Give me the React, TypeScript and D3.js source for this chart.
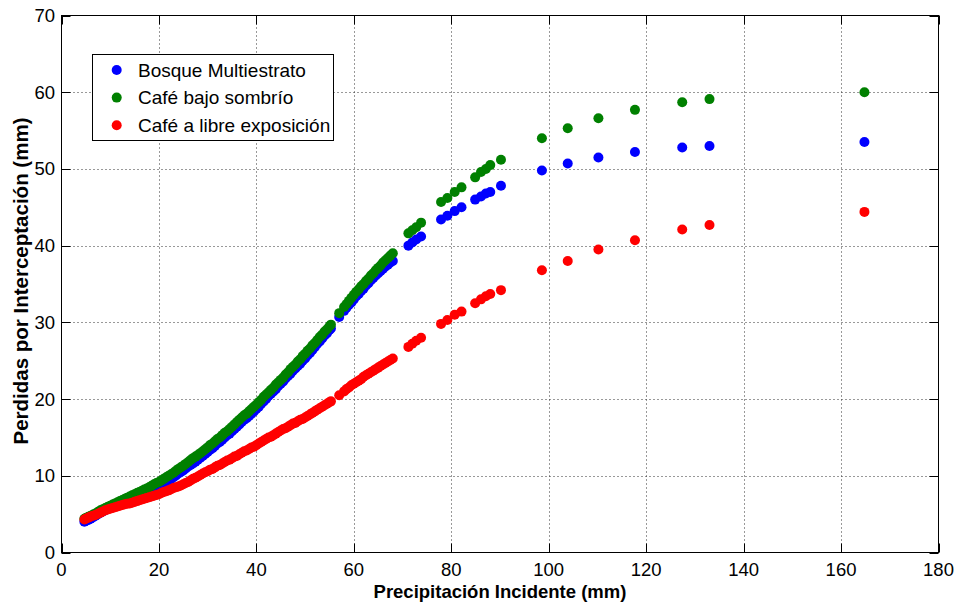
import React from "react";
import * as d3 from "d3";

// Incident precipitation per event (mm), shared by the three cover types
const precipitation = [
  4.7, 5, 5.5, 6, 6.5, 7, 7.5, 8, 8.5, 9, 9.5, 10, 10.5, 11, 11.5, 12, 12.5, 13, 13.5, 14, 14.5, 15,
  15.5, 16, 16.5, 17, 17.5, 18, 18.5, 19, 19.5, 20, 20.5, 21, 21.5, 22, 22.5, 23, 23.5, 24, 24.5, 25,
  25.5, 26, 26.5, 27, 27.5, 28, 28.5, 29, 29.5, 30,
  30.5, 31, 31.5, 32, 32.5, 33, 33.5, 34, 34.5, 35, 35.5, 36, 36.5, 37, 37.5, 38, 38.5, 39, 39.5, 40,
  40.5, 41, 41.5, 42, 42.5, 43, 43.5, 44, 44.5, 45, 45.5, 46, 46.5, 47, 47.5, 48, 48.5, 49, 49.5, 50,
  50.5, 51, 51.5, 52, 52.5, 53, 53.5, 54, 54.5, 55, 55.3,
  57, 58, 58.5, 59, 59.5, 60, 60.5, 61, 61.5, 62, 62.5, 63, 63.5, 64, 64.5, 65, 65.5, 66, 66.5, 67, 67.5, 68,
  71.2, 72, 72.8, 73.8,
  77.9, 79.2, 80.7, 82.1,
  84.9, 86.1, 87.1, 88, 90.2,
  98.6, 103.9, 110.2, 117.7, 127.4, 133, 164.8,
];

// Interception losses (mm) — Bosque Multiestrato
const bosque = [
  4.0, 4.1, 4.25, 4.4, 4.6, 4.8, 5.0, 5.2, 5.35, 5.5, 5.7, 5.9, 6.05, 6.2, 6.3, 6.4, 6.55, 6.7, 6.8, 6.9, 7.05, 7.2,
  7.35, 7.5, 7.6, 7.7, 7.85, 8.0, 8.15, 8.3, 8.45, 8.6, 8.8, 9.0, 9.2, 9.4, 9.6, 9.8, 10.05, 10.3, 10.5, 10.7,
  10.95, 11.2, 11.4, 11.6, 11.85, 12.1, 12.35, 12.6, 12.85, 13.1,
  13.4, 13.6, 13.9, 14.2, 14.4, 14.7, 15.0, 15.3, 15.5, 15.8, 16.1, 16.4, 16.7, 17.0, 17.3, 17.5, 17.8, 18.1, 18.4, 18.7,
  19.0, 19.4, 19.7, 20.0, 20.4, 20.7, 21.0, 21.3, 21.7, 22.0, 22.3, 22.7, 23.0, 23.3, 23.7, 24.0, 24.3, 24.6, 25.0, 25.3,
  25.7, 26.0, 26.4, 26.8, 27.2, 27.5, 27.9, 28.3, 28.6, 29.0, 29.2,
  30.7, 31.5, 31.9, 32.3, 32.6, 33.0, 33.4, 33.7, 34.1, 34.4, 34.8, 35.1, 35.5, 35.8, 36.1, 36.4, 36.7, 37.0, 37.3, 37.5, 37.8, 38.0,
  40.0, 40.4, 40.8, 41.2,
  43.4, 43.9, 44.5, 45.0,
  46.0, 46.4, 46.8, 47.0, 47.8,
  49.8, 50.7, 51.5, 52.2, 52.8, 53.0, 53.5,
];

// Interception losses (mm) — Café bajo sombrío
const cafeSombra = [
  4.4, 4.5, 4.65, 4.8, 4.95, 5.1, 5.3, 5.5, 5.65, 5.8, 5.95, 6.1, 6.25, 6.4, 6.55, 6.7, 6.85, 7.0, 7.15, 7.3, 7.45, 7.6,
  7.75, 7.9, 8.05, 8.2, 8.35, 8.5, 8.7, 8.9, 9.05, 9.2, 9.4, 9.6, 9.8, 10.0, 10.2, 10.4, 10.65, 10.9, 11.1, 11.3,
  11.55, 11.8, 12.05, 12.3, 12.5, 12.7, 12.95, 13.2, 13.45, 13.7,
  14.0, 14.2, 14.5, 14.8, 15.0, 15.3, 15.6, 15.8, 16.1, 16.4, 16.7, 17.0, 17.3, 17.6, 17.9, 18.1, 18.4, 18.7, 19.0, 19.3,
  19.6, 19.9, 20.3, 20.6, 20.9, 21.2, 21.5, 21.9, 22.2, 22.5, 22.8, 23.2, 23.5, 23.9, 24.2, 24.5, 24.9, 25.2, 25.6, 25.9,
  26.3, 26.6, 27.0, 27.3, 27.7, 28.1, 28.4, 28.8, 29.1, 29.5, 29.7,
  31.2, 32.0, 32.4, 32.8, 33.2, 33.6, 34.0, 34.3, 34.7, 35.0, 35.4, 35.7, 36.1, 36.4, 36.8, 37.1, 37.4, 37.8, 38.1, 38.4, 38.7, 39.0,
  41.6, 42.0, 42.4, 43.0,
  45.7, 46.2, 47.0, 47.6,
  48.9, 49.6, 50.0, 50.5, 51.2,
  54.0, 55.3, 56.6, 57.7, 58.7, 59.1, 60.0,
];

// Interception losses (mm) — Café a libre exposición
const cafeLibre = [
  4.3, 4.4, 4.55, 4.7, 4.8, 4.9, 5.05, 5.2, 5.35, 5.5, 5.6, 5.7, 5.8, 5.9, 6.0, 6.1, 6.2, 6.3, 6.35, 6.4, 6.5, 6.6,
  6.7, 6.8, 6.9, 7.0, 7.1, 7.2, 7.3, 7.4, 7.5, 7.6, 7.75, 7.9, 8.0, 8.1, 8.25, 8.4, 8.5, 8.6, 8.75, 8.9,
  9.05, 9.2, 9.4, 9.6, 9.75, 9.9, 10.1, 10.3, 10.45, 10.6,
  10.8, 10.9, 11.1, 11.3, 11.4, 11.6, 11.8, 12.0, 12.1, 12.3, 12.5, 12.6, 12.8, 13.0, 13.2, 13.3, 13.5, 13.7, 13.8, 14.0,
  14.2, 14.4, 14.6, 14.8, 15.0, 15.1, 15.3, 15.5, 15.7, 15.9, 16.1, 16.2, 16.4, 16.6, 16.8, 16.9, 17.1, 17.3, 17.4, 17.6,
  17.8, 18.0, 18.2, 18.4, 18.6, 18.8, 19.0, 19.2, 19.4, 19.6, 19.7,
  20.5, 21.0, 21.3, 21.5, 21.8, 22.0, 22.2, 22.4, 22.6, 22.9, 23.1, 23.3, 23.5, 23.7, 23.9, 24.1, 24.3, 24.5, 24.7, 24.9, 25.1, 25.3,
  26.8, 27.2, 27.6, 28.0,
  29.8, 30.3, 31.0, 31.4,
  32.5, 33.0, 33.4, 33.7, 34.2,
  36.8, 38.0, 39.5, 40.7, 42.1, 42.7, 44.4,
];

const seriesNames = ["Bosque Multiestrato", "Café bajo sombrío", "Café a libre exposición"];
const seriesColors = ["#0000ff", "#008000", "#ff0000"];
const seriesValues = [bosque, cafeSombra, cafeLibre];

const xTicks = [0, 20, 40, 60, 80, 100, 120, 140, 160, 180];
const yTicks = [0, 10, 20, 30, 40, 50, 60, 70];

const xTitle = "Precipitación Incidente (mm)";
const yTitle = "Perdidas por Interceptación (mm)";

const W = 957;
const H = 605;
const left = 61.5;
const right = 938.5;
const top = 15.5;
const bottom = 552.5;
const font = "'Liberation Sans', Arial, Helvetica, sans-serif";
const tickLen = 9;
const markerR = 5;

export default function App() {
  const x = d3.scaleLinear().domain([0, 180]).range([left, right]);
  const y = d3.scaleLinear().domain([0, 70]).range([bottom, top]);

  return (
    <svg
      width={W}
      height={H}
      viewBox={`0 0 ${W} ${H}`}
      style={{ position: "absolute", left: 0, top: 0, background: "#fff" }}
    >
      <rect x={0} y={0} width={W} height={H} fill="#fff" />

      {/* dotted grid */}
      <g stroke="#333" strokeWidth={1} strokeDasharray="1,3">
        {xTicks.slice(1, -1).map((t) => (
          <line key={`gx${t}`} x1={Math.round(x(t)) + 0.5} x2={Math.round(x(t)) + 0.5} y1={top} y2={bottom} />
        ))}
        {yTicks.slice(1, -1).map((t) => (
          <line key={`gy${t}`} x1={left} x2={right} y1={Math.round(y(t)) + 0.5} y2={Math.round(y(t)) + 0.5} />
        ))}
      </g>

      {/* data points, drawn in series order */}
      {seriesValues.map((vals, si) => (
        <g key={seriesNames[si]} fill={seriesColors[si]}>
          {vals.map((v, i) => (
            <circle key={i} cx={x(precipitation[i])} cy={y(v)} r={markerR} />
          ))}
        </g>
      ))}

      {/* axes box and inward ticks */}
      <g stroke="#000" strokeWidth={1}>
        <rect x={left} y={top} width={right - left} height={bottom - top} fill="none" />
        {xTicks.map((t) => {
          const px = Math.round(x(t)) + 0.5;
          return (
            <g key={`tx${t}`}>
              <line x1={px} x2={px} y1={bottom} y2={bottom - tickLen} />
              <line x1={px} x2={px} y1={top} y2={top + tickLen} />
            </g>
          );
        })}
        {yTicks.map((t) => {
          const py = Math.round(y(t)) + 0.5;
          return (
            <g key={`ty${t}`}>
              <line x1={left} x2={left + tickLen} y1={py} y2={py} />
              <line x1={right} x2={right - tickLen} y1={py} y2={py} />
            </g>
          );
        })}
      </g>

      {/* tick labels */}
      <g fontFamily={font} fontSize={18.5} fill="#000">
        {xTicks.map((t) => (
          <text key={`lx${t}`} x={x(t)} y={576} textAnchor="middle">
            {t}
          </text>
        ))}
        {yTicks.map((t) => (
          <text key={`ly${t}`} x={55} y={y(t) + 6.5} textAnchor="end">
            {t}
          </text>
        ))}
      </g>

      {/* axis titles */}
      <text
        x={(left + right) / 2}
        y={598}
        textAnchor="middle"
        fontFamily={font}
        fontWeight="bold"
        fontSize={18.5}
      >
        {xTitle}
      </text>
      <text
        transform={`translate(28,281) rotate(-90)`}
        textAnchor="middle"
        fontFamily={font}
        fontWeight="bold"
        fontSize={20.5}
      >
        {yTitle}
      </text>

      {/* legend */}
      <g>
        <rect x={92.5} y={54.5} width={241} height={86} fill="#fff" stroke="#000" strokeWidth={1} />
        {seriesNames.map((name, i) => (
          <g key={name}>
            <circle cx={116.7} cy={70 + i * 27.6} r={markerR} fill={seriesColors[i]} />
            <text x={138} y={76.5 + i * 27.6} fontFamily={font} fontSize={19}>
              {name}
            </text>
          </g>
        ))}
      </g>
    </svg>
  );
}
